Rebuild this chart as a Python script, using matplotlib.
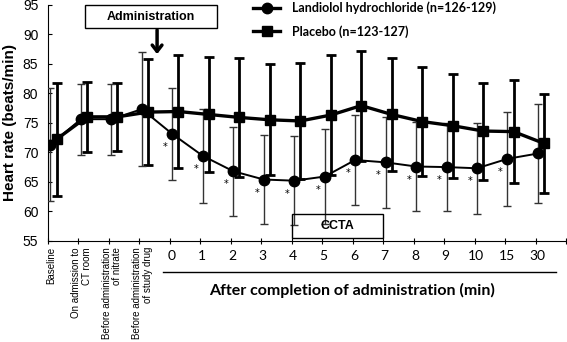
import matplotlib
matplotlib.use("Agg")
import matplotlib.pyplot as plt
from matplotlib.patches import Rectangle
from matplotlib.lines import Line2D
import matplotlib.transforms as mtransforms

categories = ["Baseline", "On admission to\nCT room", "Before administration\nof nitrate",
              "Before administration\nof study drug",
              "0", "1", "2", "3", "4", "5", "6", "7", "8", "9", "10", "15", "30"]
landiolol_mean = [71.3, 75.6, 75.6, 77.3, 73.1, 69.4, 66.8, 65.4, 65.2, 65.9, 68.7, 68.3, 67.6, 67.5, 67.3, 68.9, 69.8]
landiolol_sd = [9.6, 6.0, 6.0, 9.6, 7.8, 7.9, 7.5, 7.5, 7.5, 8.1, 7.6, 7.7, 7.6, 7.5, 7.7, 7.9, 8.3]
placebo_mean = [72.2, 76.0, 76.0, 76.8, 76.9, 76.4, 75.9, 75.5, 75.3, 76.3, 77.9, 76.4, 75.2, 74.5, 73.6, 73.5, 71.5]
placebo_sd = [9.6, 5.9, 5.8, 9.0, 9.5, 9.7, 10.0, 9.4, 9.8, 10.2, 9.3, 9.5, 9.2, 8.8, 8.2, 8.7, 8.4]
significant = [False] * 4 + [True] * 12 + [False]
yticks = [55, 60, 65, 70, 75, 80, 85, 90, 95]

W, H = 567, 342
AX_BOT, AX_TOP = 241, 4.5
AX_H = AX_BOT - AX_TOP
fig = plt.figure(figsize=(W / 100, H / 100), dpi=100)
ax = fig.add_axes([48 / W, (H - AX_BOT) / H, 518 / W, AX_H / H])
ax.set_xlim(0, 17)
ax.set_ylim(55, 95)

n = len(categories)
xl = [i + 0.08 for i in range(n)]
xp = [i + 0.28 for i in range(n)]

# placebo
ax.errorbar(xp, placebo_mean, yerr=placebo_sd, fmt='none', ecolor='black',
            elinewidth=2.0, capsize=3.5, capthick=2.0, zorder=3)
ax.plot(xp, placebo_mean, color='black', lw=2.4, marker='s', ms=6.5, zorder=4)
# landiolol
ax.errorbar(xl, landiolol_mean, yerr=landiolol_sd, fmt='none', ecolor='#333333',
            elinewidth=1.0, capsize=3.0, capthick=1.0, zorder=3)
ax.plot(xl, landiolol_mean, color='black', lw=1.4, marker='o', ms=7.5, zorder=5)

for x, y, s in zip(xl, landiolol_mean, significant):
    if s:
        ax.annotate('*', xy=(x, y), xytext=(-7, -13), textcoords='offset pixels',
                    ha='center', va='center', fontsize=7, family='DejaVu Sans')

for sp in ['top', 'right']:
    ax.spines[sp].set_visible(False)
ax.spines['left'].set_linewidth(0.8)
ax.spines['bottom'].set_linewidth(0.8)

ax.set_yticks(yticks)
ax.set_yticklabels([str(v) for v in yticks], family='Liberation Sans', fontsize=10)
ax.tick_params(axis='y', direction='in', length=3, pad=7, width=0.8)
ax.set_xticks(range(n + 1))
ax.set_xticklabels([''] * (n + 1))
ax.tick_params(axis='x', direction='inout', length=5, width=0.8)

trans = mtransforms.blended_transform_factory(ax.transData, ax.transAxes)
px = 1 / AX_H
for i, lab in enumerate(categories):
    if i < 4:
        ax.text(i + 0.1, -6 * px, lab, transform=trans, rotation=90, ha='center', va='top',
                multialignment='right', fontsize=7, family='Liberation Sans', linespacing=1.1)
    else:
        ax.text(i + 0.05, -15 * px, lab, transform=trans, ha='center', va='center',
                fontsize=10, family='Lato')

ax.add_line(Line2D([3.77, 16.67], [-31 * px, -31 * px], transform=trans, color='black',
                   lw=1.0, clip_on=False))
ax.text(9.99, -49 * px, 'After completion of administration (min)', transform=trans,
        ha='center', va='center', fontsize=11.5, family='Lato', fontweight='bold')

ax.set_ylabel('Heart rate (beats/min)', family='Liberation Sans', fontweight='bold',
              fontsize=11, labelpad=4)

# Administration box and arrow
ax.add_patch(Rectangle((1.21, 91.0), 4.34, 3.95, fill=False, lw=1.0, ec='black',
                       clip_on=False, zorder=6))
ax.text(1.21 + 2.17, 92.95, 'Administration', ha='center', va='center', fontsize=9,
        family='Liberation Sans', fontweight='bold')
ax.annotate('', xy=(3.58, 86.6), xytext=(3.58, 90.7),
            arrowprops=dict(arrowstyle='->,head_width=0.35,head_length=0.45', lw=2.5,
                            color='black', shrinkA=0, shrinkB=0))

# CCTA box
ax.add_patch(Rectangle((8, 55.5), 3, 4.0, fill=False, lw=1.0, ec='black', zorder=6))
ax.text(9.5, 57.5, 'CCTA', ha='center', va='center', fontsize=9,
        family='Liberation Sans', fontweight='bold')

handles = [Line2D([], [], color='black', lw=2.4, marker='o', ms=7.5),
           Line2D([], [], color='black', lw=2.4, marker='s', ms=6.5)]
leg = ax.legend(handles, ['Landiolol hydrochloride (n=126-129)', 'Placebo (n=123-127)'],
                loc='upper left', bbox_to_anchor=(244 / W, 1 + 7 / H),
                bbox_transform=fig.transFigure, frameon=False, handlelength=2.2,
                handletextpad=0.9, labelspacing=0.85, borderpad=0.2,
                prop={'family': 'Lato', 'weight': 'bold', 'size': 9})

fig.savefig('out.png', dpi=100)
